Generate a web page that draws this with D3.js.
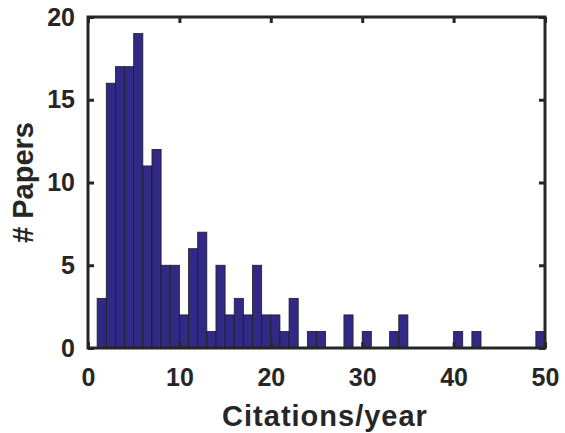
<!DOCTYPE html>
<html>
<head>
<meta charset="utf-8">
<script src="https://cdn.jsdelivr.net/npm/d3@7"></script>
<style>
  body { margin: 0; background: #fff; }
  text { font-family: "Liberation Sans", Arial, sans-serif; font-weight: bold; fill: #262626; }
</style>
</head>
<body>
<div id="chart"></div>
<script>
// Histogram bins: left edge of each bin (width 1) and the paper count in it
let binLeft = d3.range(1, 50);
let counts = [3, 16, 17, 17, 19, 11, 12, 5, 5, 2,
              6, 7, 1, 5, 2, 3, 2, 5, 2, 2,
              1, 3, 0, 1, 1, 0, 0, 2, 0, 1,
              0, 0, 1, 2, 0, 0, 0, 0, 0, 1,
              0, 1, 0, 0, 0, 0, 0, 0, 1];
let xTicks = [0, 10, 20, 30, 40, 50];
let yTicks = [0, 5, 10, 15, 20];

let width = 565,
    height = 433;
let margin = {top: 17, right: 20, bottom: 85, left: 88};

let svg = d3.select("#chart")
    .append("svg")
    .attr("width", width)
    .attr("height", height);

let x = d3.scaleLinear()
    .domain([0, 50])
    .range([margin.left, width - margin.right]);

let y = d3.scaleLinear()
    .domain([0, 20])
    .range([height - margin.bottom, margin.top]);

let data = binLeft.map(function(b, i) { return {x0: b, x1: b + 1, count: counts[i]}; });

// bars
svg.append("g")
    .selectAll("rect")
    .data(data.filter(function(d) { return d.count > 0; }))
    .enter()
    .append("rect")
    .attr("x", function(d) { return x(d.x0); })
    .attr("y", function(d) { return y(d.count); })
    .attr("width", function(d) { return x(d.x1) - x(d.x0); })
    .attr("height", function(d) { return y(0) - y(d.count); })
    .attr("fill", "#312985")
    .attr("stroke", "#1e1e1e")
    .attr("stroke-width", 0.8);

// axes, ticks pointing inward, mirrored on top and right
function styleAxis(g) {
    g.select(".domain").remove();
    g.selectAll(".tick line").attr("stroke", "#262626").attr("stroke-width", 3);
    g.selectAll(".tick text")
        .style("font-family", "'Liberation Sans', Arial, sans-serif")
        .style("font-weight", "bold")
        .style("font-size", "25px")
        .attr("fill", "#262626");
}

svg.append("g")
    .attr("transform", `translate(0, ${y(0)})`)
    .call(d3.axisBottom(x).tickValues(xTicks).tickSize(-6).tickPadding(20).tickFormat(d3.format("d")))
    .call(styleAxis);

svg.append("g")
    .attr("transform", `translate(${x(0)}, 0)`)
    .call(d3.axisLeft(y).tickValues(yTicks).tickSize(-6).tickPadding(13).tickFormat(d3.format("d")))
    .call(styleAxis);

svg.append("g")
    .attr("transform", `translate(0, ${y(20)})`)
    .call(d3.axisTop(x).tickValues(xTicks).tickSize(-6).tickFormat(""))
    .call(styleAxis);

svg.append("g")
    .attr("transform", `translate(${x(50)}, 0)`)
    .call(d3.axisRight(y).tickValues(yTicks).tickSize(-6).tickFormat(""))
    .call(styleAxis);

// frame
svg.append("rect")
    .attr("x", x(0))
    .attr("y", y(20))
    .attr("width", x(50) - x(0))
    .attr("height", y(0) - y(20))
    .attr("fill", "none")
    .attr("stroke", "#262626")
    .attr("stroke-width", 3);

// axis titles
svg.append("text")
    .attr("x", 325)
    .attr("y", 426)
    .style("text-anchor", "middle")
    .style("font-size", "29px")
    .style("letter-spacing", "1px")
    .text("Citations/year");

svg.append("text")
    .attr("transform", `translate(33, ${(y(0) + y(20)) / 2}) rotate(-90)`)
    .style("text-anchor", "middle")
    .style("font-size", "29px")
    .text("# Papers");
</script>
</body>
</html>
